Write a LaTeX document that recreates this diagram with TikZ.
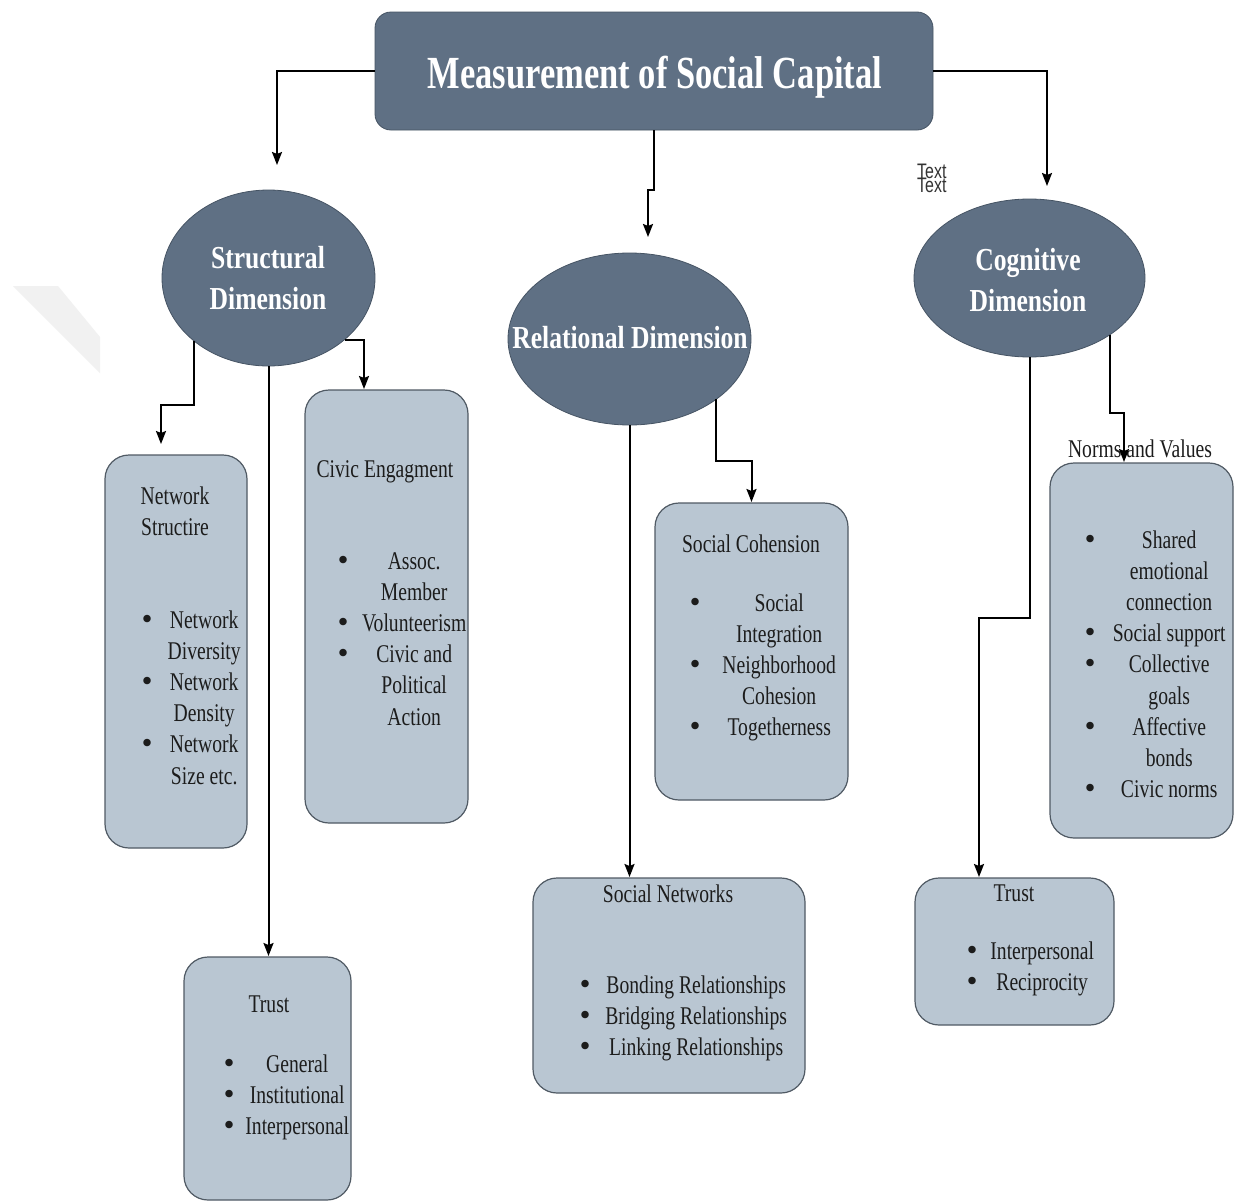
\documentclass[tikz,border=0pt]{standalone}
\usepackage{fontspec}
\usepackage{array}
\setmainfont{Liberation Serif}[FakeStretch=0.77]
\newfontfamily\dimfont{Liberation Serif}[FakeStretch=0.80]
\newfontfamily\titlefont{Liberation Serif}[FakeStretch=0.75]
\newfontfamily\tagfont{Liberation Sans}[FakeStretch=0.76]
\newfontfamily\bulfont{DejaVu Sans}
\usetikzlibrary{arrows.meta,shapes.geometric}
\definecolor{slate}{RGB}{95,112,132}
\definecolor{slateline}{RGB}{70,84,100}
\definecolor{boxfill}{RGB}{185,198,210}
\definecolor{boxline}{RGB}{80,90,100}
\definecolor{wmark}{RGB}{241,241,241}
\definecolor{bodyink}{RGB}{28,28,28}
\newcommand\bul{{\bulfont •}}
\begin{document}
\begin{tikzpicture}[x=1pt,y=-1pt,
  dimell/.style={ellipse, fill=slate, draw=slateline, line width=0.8pt, inner sep=0pt, outer sep=0pt},
  ttlbox/.style={rectangle, rounded corners=16pt, fill=slate, draw=slateline, line width=0.8pt, inner sep=0pt, outer sep=0pt},
  itembox/.style={rectangle, rounded corners=24pt, fill=boxfill, draw=boxline, line width=1.2pt, inner sep=0pt, outer sep=0pt},
  bodytxt/.style={inner sep=0pt, text=bodyink, font=\fontsize{25.5}{31.2}\selectfont},
  dimtxt/.style={inner sep=0pt, text=white, font=\dimfont\bfseries\fontsize{32}{41}\selectfont},
  tagtxt/.style={inner sep=0pt, text=black!80, font=\tagfont\fontsize{21}{24}\selectfont},
  conn/.style={line width=2pt, -{Stealth[length=13pt,width=10pt,inset=2pt]}}]
\fill[white] (0,0) rectangle (1242,1202);
\useasboundingbox (0,0) rectangle (1242,1202);
% faint watermark
\fill[wmark] (13,286) -- (58,286) -- (100,337) -- (100,373) -- cycle;

% title
\node[ttlbox, minimum width=558pt, minimum height=118pt] (title) at (654,71) {};
\node[anchor=base, inner sep=0pt, text=white, font=\titlefont\bfseries\fontsize{46}{50}\selectfont] (titleT) at (655,88) {Measurement of Social Capital};

% dimensions
\node[dimell, minimum width=213pt, minimum height=176pt] (structural) at (268.5,278) {};
\node[dimtxt, anchor=base] (structuralT) at (268,268) {\begin{tabular}[t]{@{}c@{}}Structural\\Dimension\end{tabular}};
\node[dimell, minimum width=243pt, minimum height=172pt] (relational) at (629.5,339) {};
\node[dimtxt, anchor=base] (relationalT) at (630,348) {Relational Dimension};
\node[dimell, minimum width=231pt, minimum height=158pt] (cognitive) at (1029.5,278) {};
\node[dimtxt, anchor=base] (cognitiveT) at (1028,270) {\begin{tabular}[t]{@{}c@{}}Cognitive\\Dimension\end{tabular}};

% overlapping placeholder texts (as in the source)
\node[tagtxt, anchor=base west] (tagA) at (917,178) {Text};
\node[tagtxt, anchor=base west] (tagB) at (917,192) {Text};

% boxes
\node[itembox, minimum width=142pt, minimum height=393pt] (network) at (176,651.5) {};
\node[itembox, minimum width=163pt, minimum height=433pt] (civic) at (386.5,606.5) {};
\node[itembox, minimum width=167pt, minimum height=243pt] (trustL) at (267.5,1078.5) {};
\node[itembox, minimum width=193pt, minimum height=297pt] (cohesion) at (751.5,651.5) {};
\node[itembox, minimum width=272pt, minimum height=215pt] (snet) at (669,985.5) {};
\node[itembox, minimum width=183pt, minimum height=375pt] (norms) at (1141.5,650.5) {};
\node[itembox, minimum width=199pt, minimum height=147pt] (trustR) at (1014.5,951.5) {};

% box texts
\node[bodytxt, anchor=base] (networkH) at (175,504) {\begin{tabular}[t]{@{}c@{}}Network\\Structire\end{tabular}};
\node[bodytxt, anchor=base west] (networkL) at (137,628) {\begin{tabular}[t]{@{}w{c}{20pt}@{}w{c}{94pt}@{}}
\bul & Network\\ & Diversity\\ \bul & Network\\ & Density\\ \bul & Network\\ & Size etc.\end{tabular}};

\node[bodytxt, anchor=base] (civicH) at (385,477) {Civic Engagment};
\node[bodytxt, anchor=base west] (civicL) at (333,569) {\begin{tabular}[t]{@{}w{c}{20pt}@{}w{c}{122pt}@{}}
\bul & Assoc.\\ & Member\\ \bul & Volunteerism\\ \bul & Civic and\\ & Political\\ & Action\end{tabular}};

\node[bodytxt, anchor=base] (trustLH) at (269,1012) {Trust};
\node[bodytxt, anchor=base west] (trustLL) at (219,1072) {\begin{tabular}[t]{@{}w{c}{20pt}@{}w{c}{116pt}@{}}
\bul & General\\ \bul & Institutional\\ \bul & Interpersonal\end{tabular}};

\node[bodytxt, anchor=base] (cohesionH) at (751,552) {Social Cohension};
\node[bodytxt, anchor=base west] (cohesionL) at (685,611) {\begin{tabular}[t]{@{}w{c}{20pt}@{}w{c}{148pt}@{}}
\bul & Social\\ & Integration\\ \bul & Neighborhood\\ & Cohesion\\ \bul & Togetherness\end{tabular}};

\node[bodytxt, anchor=base] (snetH) at (668,902) {Social Networks};
\node[bodytxt, anchor=base west] (snetL) at (575,993) {\begin{tabular}[t]{@{}w{c}{20pt}@{}w{c}{202pt}@{}}
\bul & Bonding Relationships\\ \bul & Bridging Relationships\\ \bul & Linking Relationships\end{tabular}};

\node[bodytxt, anchor=base] (normsH) at (1140,457) {Norms and Values};
\node[bodytxt, anchor=base west] (normsL) at (1080,548) {\begin{tabular}[t]{@{}w{c}{20pt}@{}w{c}{138pt}@{}}
\bul & Shared\\ & emotional\\ & connection\\ \bul & Social support\\ \bul & Collective\\ & goals\\ \bul & Affective\\ & bonds\\ \bul & Civic norms\end{tabular}};

\node[bodytxt, anchor=base] (trustRH) at (1014,901) {Trust};
\node[bodytxt, anchor=base west] (trustRL) at (962,959) {\begin{tabular}[t]{@{}w{c}{20pt}@{}w{c}{120pt}@{}}
\bul & Interpersonal\\ \bul & Reciprocity\end{tabular}};

% connector end points
\coordinate (tipS) at ([xshift=8.5pt,yshift=25pt]structural.north);
\coordinate (tipR) at ([xshift=18.5pt,yshift=16pt]relational.north);
\coordinate (tipC) at ([xshift=17.5pt,yshift=13pt]cognitive.north);
\coordinate (tipN) at ([xshift=-15pt,yshift=11pt]network.north);
\coordinate (tipCv) at ([xshift=-22.5pt,yshift=1pt]civic.north);
\coordinate (tipTR) at ([xshift=-35.5pt,yshift=1pt]trustR.north);
\coordinate (tipNV) at ([xshift=-17.5pt,yshift=1pt]norms.north);

% connectors
\draw[conn] (title.west) -| (tipS);
\draw[conn] (title.south) -- ++(0,60) -| (tipR);
\draw[conn] (title.east) -| (tipC);
\draw[conn] (structural.220) -- ++(0,64) -| (tipN);
\draw[conn] (structural.321) -| (tipCv);
\draw[conn] (structural.south) -- ([yshift=1pt]structural.south |- trustL.north);
\draw[conn] (relational.south) -- ([yshift=1pt]relational.south |- snet.north);
\draw[conn] (relational.325) -- ++(0,62) -| ([yshift=1pt]cohesion.north);
\draw[conn] (cognitive.south) -- ++(0,261) -| (tipTR);
\draw[conn] (cognitive.325) -- ++(0,78) -| (tipNV);
\end{tikzpicture}
\end{document}
